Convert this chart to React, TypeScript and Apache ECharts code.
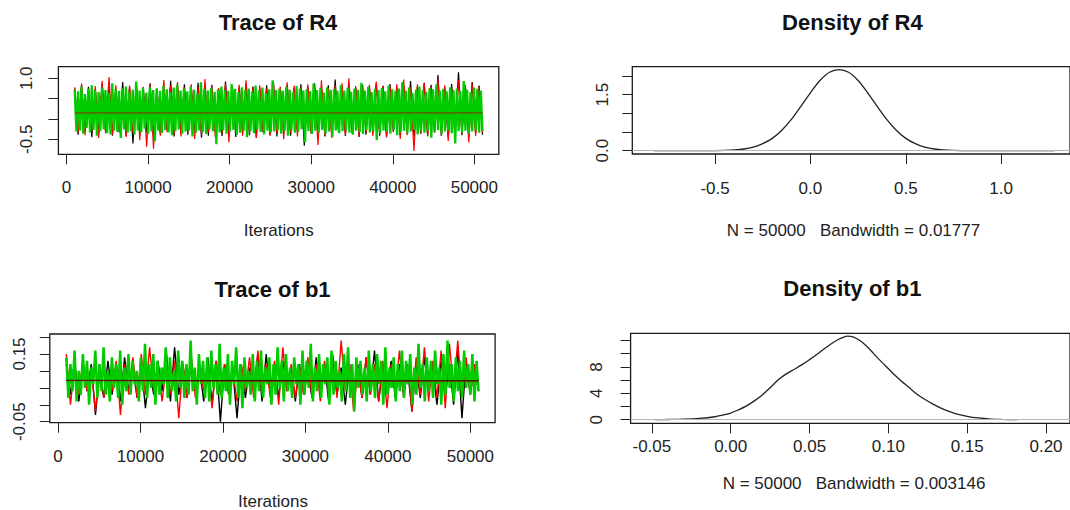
import React, { useEffect, useRef } from "react";
import * as echarts from "echarts";

// ---------- data ----------
const iterStart = 1001;
const iterEnd = 51000;
const traceXTicks = [0, 10000, 20000, 30000, 40000, 50000];
const traceXTickLabels = ["0", "10000", "20000", "30000", "40000", "50000"];

// R4 trace chains
const r4Black = [
  0.75,-0.39,0.83,-0.32,0.79,-0.45,0.73,-0.35,0.87,-0.31,
  0.81,-0.41,0.74,-0.33,0.91,-0.42,0.79,-0.60,0.84,-0.36,
  0.77,-0.34,0.88,-0.44,0.75,-0.38,0.83,-0.31,0.94,-0.43,
  0.76,-0.35,0.85,-0.39,0.80,-0.33,0.89,-0.46,0.78,-0.41,
  0.84,-0.32,0.74,-0.42,0.92,-0.35,0.81,-0.44,0.77,-0.34,
  0.87,-0.40,0.80,-0.47,0.75,-0.33,0.83,-0.39,0.90,-0.43,
  0.78,-0.35,0.84,-0.41,0.76,-0.32,0.85,-0.66,0.81,-0.36,
  0.88,-0.34,0.77,-0.43,0.83,-0.40,0.97,-0.33,0.79,-0.42,
  0.85,-0.35,0.76,-0.44,0.84,-0.39,0.78,-0.34,0.88,-0.41,
  0.81,-0.45,0.86,-0.32,0.77,-0.40,0.83,-0.35,0.93,-0.43,
  0.79,-0.36,0.89,-0.42,0.84,-0.33,1.08,-0.41,0.78,-0.46,
  0.86,-0.35,1.15,-0.40,0.81,-0.44,0.91,-0.34,0.82,-0.39,
];
const r4Red = [
  0.78,-0.33,0.87,-0.40,0.74,-0.30,0.81,-0.47,0.93,-0.35,
  1.03,-0.39,0.83,-0.31,0.76,-0.44,0.82,-0.34,0.89,-0.52,
  0.79,-0.68,0.86,-0.73,0.75,-0.41,0.96,-0.32,0.83,-0.38,
  0.91,-0.43,0.77,-0.34,0.85,-0.49,0.78,-0.40,0.98,-0.33,
  0.82,-0.44,0.76,-0.35,0.88,-0.57,0.80,-0.31,0.84,-0.41,
  0.95,-0.36,0.78,-0.46,0.83,-0.32,0.75,-0.42,0.87,-0.35,
  0.79,-0.50,0.90,-0.33,0.82,-0.43,0.77,-0.39,0.85,-0.34,
  0.78,-0.64,0.95,-0.41,0.76,-0.47,0.83,-0.32,0.88,-0.40,
  1.00,-0.35,0.81,-0.44,0.78,-0.34,0.84,-0.42,0.92,-0.36,
  0.82,-0.45,0.79,-0.31,0.86,-0.49,0.97,-0.40,0.77,-0.79,
  0.85,-0.35,0.89,-0.43,0.80,-0.33,0.99,-0.41,0.83,-0.54,
  0.78,-0.46,0.96,-0.36,0.84,-0.58,0.87,-0.42,0.79,-0.34,
];
const r4Green = [
  0.72,-0.31,0.68,-0.28,0.79,-0.36,0.61,-0.22,0.74,-0.33,
  0.83,-0.27,0.70,-0.41,0.66,-0.30,0.77,-0.25,0.71,-0.35,
  0.64,-0.38,0.88,-0.29,0.73,-0.32,0.69,-0.47,0.75,-0.26,
  0.80,-0.34,0.67,-0.30,0.72,-0.39,0.92,-0.28,0.70,-0.33,
  0.76,-0.24,0.65,-0.37,0.78,-0.31,0.71,-0.55,0.74,-0.29,
  0.69,-0.35,0.81,-0.27,0.73,-0.33,0.66,-0.40,0.77,-0.30,
  0.84,-0.26,0.70,-0.36,0.75,-0.31,0.68,-0.29,0.79,-0.43,
  0.72,-0.34,0.63,-0.28,0.90,-0.32,0.74,-0.37,0.70,-0.25,
  0.76,-0.30,0.67,-0.62,0.73,-0.33,0.80,-0.28,0.71,-0.36,
  0.69,-0.31,0.86,-0.27,0.74,-0.39,0.66,-0.34,0.78,-0.29,
  0.72,-0.45,0.75,-0.30,0.68,-0.35,0.82,-0.26,0.70,-0.32,
  0.77,-0.38,0.64,-0.29,0.73,-0.33,0.95,-0.31,0.71,-0.27,
  0.74,-0.36,0.69,-0.30,0.79,-0.41,0.72,-0.28,0.66,-0.34,
  0.81,-0.32,0.75,-0.25,0.70,-0.58,0.73,-0.30,0.68,-0.37,
  0.87,-0.29,0.71,-0.33,0.76,-0.27,0.65,-0.36,0.78,-0.31,
  0.72,-0.44,0.74,-0.28,0.69,-0.35,0.83,-0.30,0.70,-0.26,
  0.77,-0.34,0.67,-0.39,0.75,-0.29,0.72,-0.32,0.89,-0.37,
  0.70,-0.27,0.79,-0.33,0.66,-0.30,0.74,-0.52,0.71,-0.35,
  0.76,-0.28,0.68,-0.31,0.82,-0.36,0.73,-0.26,0.69,-0.40,
  0.75,-0.33,0.91,-0.29,0.70,-0.35,0.77,-0.31,0.64,-0.27,
  0.72,-0.38,0.80,-0.30,0.71,-0.34,0.67,-0.29,0.76,-0.46,
  0.73,-0.32,0.85,-0.27,0.70,-0.36,0.74,-0.31,0.68,-0.28,
  0.78,-0.35,0.71,-0.60,0.75,-0.30,0.69,-0.33,0.93,-0.29,
  0.72,-0.36,0.66,-0.31,0.77,-0.27,0.74,-0.34,0.70,-0.30,
];
const smoothIter = [1001, 11000, 21000, 31000, 41000, 51000];
const r4SmoothBlack = [0.151, 0.150, 0.150, 0.149, 0.150, 0.151];
const r4SmoothRed = [0.146, 0.146, 0.145, 0.146, 0.147, 0.146];

// b1 trace chains
const b1Black = [
  0.12,0.03,0.13,0.01,0.11,0.04,0.12,-0.03,0.10,0.02,
  0.13,0.03,0.12,0.01,0.14,0.04,0.11,0.02,0.12,-0.01,
  0.10,0.03,0.13,0.04,0.16,0.01,0.17,0.03,0.12,0.02,
  0.13,0.04,0.11,0.01,0.14,0.00,0.13,-0.05,0.12,0.03,
  0.10,-0.04,0.12,0.02,0.11,0.04,0.15,0.01,0.15,0.03,
  0.12,0.02,0.13,0.04,0.11,0.01,0.12,0.03,0.10,0.02,
  0.14,0.04,0.12,0.01,0.13,0.03,0.11,0.00,0.12,0.04,
  0.12,0.02,0.14,0.03,0.16,0.01,0.11,0.04,0.13,0.02,
  0.12,0.03,0.10,-0.02,0.12,0.02,0.14,0.04,0.11,0.00,
  0.13,0.03,0.12,0.00,0.16,-0.04,0.13,0.03,0.11,0.04,
];
const b1Red = [
  0.15,0.00,0.12,0.03,0.13,0.04,0.11,-0.02,0.12,0.02,
  0.10,0.04,0.13,-0.03,0.12,0.03,0.14,0.02,0.15,0.03,
  0.17,0.04,0.12,0.01,0.11,0.03,0.13,-0.04,0.12,0.02,
  0.14,0.02,0.12,0.04,0.11,-0.01,0.13,0.03,0.12,0.03,
  0.10,0.01,0.12,0.04,0.14,0.02,0.16,0.03,0.12,0.02,
  0.13,0.00,0.17,0.04,0.12,0.02,0.11,0.03,0.14,0.02,
  0.12,0.01,0.13,0.03,0.15,0.02,0.19,0.04,0.12,-0.02,
  0.11,0.02,0.14,0.03,0.12,0.01,0.13,-0.01,0.12,0.04,
  0.16,0.02,0.12,-0.02,0.14,0.03,0.17,0.01,0.13,0.02,
  0.16,-0.01,0.18,0.04,0.19,0.02,0.14,0.03,0.12,0.04,
];
const b1Green = [
  0.14,0.02,0.12,0.04,0.16,0.01,0.10,0.03,0.15,0.05,
  0.13,0.00,0.11,0.06,0.16,0.02,0.12,0.04,0.17,0.03,
  0.10,0.01,0.14,0.05,0.12,0.02,0.16,0.00,0.11,0.04,
  0.15,0.03,0.13,0.06,0.10,0.01,0.14,0.04,0.18,0.02,
  0.12,0.05,0.15,0.00,0.13,0.03,0.11,0.06,0.17,0.02,
  0.14,0.04,0.10,0.01,0.16,0.05,0.13,0.02,0.12,0.03,
  0.19,0.04,0.11,0.00,0.15,0.06,0.13,0.02,0.14,0.01,
  0.16,0.05,0.12,0.03,0.18,0.02,0.11,0.04,0.15,0.00,
  0.13,0.06,0.17,0.02,0.12,-0.01,0.14,0.05,0.10,0.03,
  0.15,0.01,0.13,0.04,0.16,0.02,0.11,0.06,0.14,0.00,
  0.12,0.03,0.17,0.05,0.13,0.01,0.15,0.04,0.11,0.02,
  0.14,0.06,0.12,0.00,0.16,0.03,0.13,0.05,0.18,0.01,
  0.11,0.04,0.15,0.02,0.12,0.06,0.14,0.00,0.16,0.03,
  0.13,0.05,0.10,0.01,0.15,0.04,0.17,0.02,0.12,-0.02,
  0.14,0.05,0.13,0.03,0.11,0.01,0.16,0.04,0.12,0.02,
  0.15,0.06,0.13,0.00,0.17,0.03,0.11,0.05,0.14,0.01,
  0.12,0.04,0.16,0.02,0.13,0.06,0.15,0.00,0.11,0.03,
  0.18,0.05,0.12,0.01,0.14,0.04,0.13,0.02,0.16,0.06,
  0.11,0.00,0.15,0.03,0.19,0.05,0.12,0.01,0.14,0.04,
  0.13,0.02,0.16,0.05,0.12,0.03,0.15,0.01,0.13,0.04,
];
const b1SmoothBlack = [0.0722, 0.0718, 0.0712, 0.0708, 0.0706, 0.0708];
const b1SmoothRed = [0.0712, 0.0706, 0.0698, 0.0694, 0.0696, 0.0700];

// densities
const r4DensX = [-0.82,-0.7,-0.6,-0.55,-0.5,-0.45,-0.4,-0.35,-0.3,-0.25,-0.2,-0.15,-0.1,-0.05,0,0.05,0.1,0.15,0.2,0.25,0.3,0.35,0.4,0.45,0.5,0.55,0.6,0.65,0.7,0.75,0.8,0.85,0.9,1.0,1.1,1.28];
const r4DensY = [0,0.0005,0.001,0.002,0.004,0.009,0.021,0.046,0.097,0.19,0.33,0.55,0.84,1.19,1.55,1.88,2.10,2.17,2.10,1.88,1.55,1.19,0.84,0.55,0.33,0.19,0.097,0.046,0.021,0.009,0.004,0.002,0.001,0.0005,0.0003,0];
const b1DensX = [-0.048,-0.04,-0.03,-0.02,-0.01,-0.005,0,0.005,0.01,0.015,0.02,0.025,0.03,0.035,0.04,0.045,0.05,0.055,0.06,0.065,0.07,0.074,0.078,0.083,0.088,0.093,0.098,0.103,0.108,0.113,0.118,0.123,0.128,0.133,0.138,0.143,0.15,0.157,0.165,0.172,0.182];
const b1DensY = [0,0.03,0.08,0.2,0.45,0.7,1.0,1.5,2.1,2.85,3.75,4.85,6.0,6.9,7.6,8.3,9.1,9.95,10.85,11.7,12.35,12.65,12.5,11.8,10.7,9.4,8.2,7.0,5.9,4.9,3.9,3.1,2.4,1.8,1.3,0.9,0.52,0.27,0.1,0.04,0];

// tick values and labels
const r4TraceYTicks = [-0.5, 0, 0.5, 1.0];
const r4TraceYLabels = ["-0.5", "", "", "1.0"];
const b1TraceYTicks = [-0.05, 0, 0.05, 0.1, 0.15, 0.2];
const b1TraceYLabels = ["-0.05", "", "", "", "0.15", ""];
const r4DensXTicks = [-0.5, 0, 0.5, 1.0];
const r4DensXLabels = ["-0.5", "0.0", "0.5", "1.0"];
const r4DensYTicks = [0, 0.5, 1.0, 1.5, 2.0];
const r4DensYLabels = ["0.0", "", "", "1.5", ""];
const b1DensXTicks = [-0.05, 0, 0.05, 0.1, 0.15, 0.2];
const b1DensXLabels = ["-0.05", "0.00", "0.05", "0.10", "0.15", "0.20"];
const b1DensYTicks = [0, 2, 4, 6, 8, 10, 12];
const b1DensYLabels = ["0", "", "4", "", "8", "", ""];

const titles = ["Trace of R4", "Density of R4", "Trace of b1", "Density of b1"];
const subR4 = "N = 50000   Bandwidth = 0.01777";
const subB1 = "N = 50000   Bandwidth = 0.003146";
const xName = "Iterations";

// ---------- helpers ----------
const FONT = "'Liberation Sans', Arial, Helvetica, sans-serif";
const TXT = "#222";

function traceData(values: number[]) {
  const step = (iterEnd - iterStart) / (values.length - 1);
  return values.map((v, i) => [iterStart + i * step, v]);
}
function pairs(xs: number[], ys: number[]) {
  return xs.map((x, i) => [x, ys[i]]);
}
function fmt(ticks: number[], labels: string[]) {
  return (v: number) => {
    const i = ticks.findIndex((t) => Math.abs(t - v) < 1e-9);
    return i >= 0 ? labels[i] : "";
  };
}
function xAxis(gi: number, min: number, max: number, ticks: number[], labels: string[], margin: number) {
  return {
    type: "value", gridIndex: gi, min, max, position: "bottom",
    axisLine: { show: false, onZero: false }, splitLine: { show: false },
    axisTick: { show: true, inside: false, length: 10, lineStyle: { color: "#222", width: 1 }, customValues: ticks },
    axisLabel: { show: true, customValues: ticks, formatter: fmt(ticks, labels), margin, fontSize: 17, color: TXT, fontFamily: FONT },
  };
}
function yAxis(gi: number, min: number, max: number, ticks: number[], labels: string[], margin: number) {
  return {
    type: "value", gridIndex: gi, min, max, position: "left",
    axisLine: { show: false, onZero: false }, splitLine: { show: false },
    axisTick: { show: true, inside: false, length: 10, lineStyle: { color: "#222", width: 1 }, customValues: ticks },
    axisLabel: { show: true, rotate: 90, customValues: ticks, formatter: fmt(ticks, labels), margin, fontSize: 17, color: TXT, fontFamily: FONT },
  };
}
function lineS(gi: number, data: number[][], color: string, width: number, opacity = 1, z = 2) {
  return {
    type: "line", xAxisIndex: gi, yAxisIndex: gi, data, showSymbol: false, symbol: "none",
    lineStyle: { color, width, opacity, join: "bevel" }, z, silent: true, clip: true,
  };
}
function densS(gi: number, data: number[][]) {
  return {
    type: "line", xAxisIndex: gi, yAxisIndex: gi, data, showSymbol: false, symbol: "none",
    smooth: 0.35, lineStyle: { color: "#222", width: 1.3 }, silent: true, clip: true,
    markLine: {
      silent: true, symbol: "none", label: { show: false },
      lineStyle: { color: "#b5b5b5", width: 1, type: "solid" },
      data: [{ yAxis: 0 }],
    },
  };
}
function txt(x: number, y: number, text: string, size: number, bold = false) {
  return {
    type: "text", x, y, silent: true,
    style: {
      text, fontSize: size, fontWeight: bold ? "bold" : "normal", fontFamily: FONT,
      fill: bold ? "#111" : TXT, align: "center", verticalAlign: "middle",
      textAlign: "center", textVerticalAlign: "middle",
    },
  };
}

const BOX = { show: true, borderColor: "#1a1a1a", borderWidth: 1.3, backgroundColor: "transparent" };

export default function App() {
  const ref = useRef<HTMLDivElement>(null);
  useEffect(() => {
    if (!ref.current) return;
    const chart = echarts.init(ref.current, undefined, { renderer: "svg" });
    const option: any = {
      animation: false,
      backgroundColor: "#ffffff",
      grid: [
        { ...BOX, left: 58.4, top: 66.7, width: 440.4, height: 87.6 },
        { ...BOX, left: 632.3, top: 66.7, width: 442, height: 87.3 },
        { ...BOX, left: 49.8, top: 334, width: 445.3, height: 88.7 },
        { ...BOX, left: 630.6, top: 333.3, width: 442, height: 90 },
      ],
      xAxis: [
        xAxis(0, -1000, 53000, traceXTicks, traceXTickLabels, 25),
        xAxis(1, -0.934, 1.361, r4DensXTicks, r4DensXLabels, 25.5),
        xAxis(2, -1000, 53000, traceXTicks, traceXTickLabels, 25.5),
        xAxis(3, -0.0635, 0.2152, b1DensXTicks, b1DensXLabels, 15),
      ],
      yAxis: [
        yAxis(0, -0.869, 1.285, r4TraceYTicks, r4TraceYLabels, 23),
        yAxis(1, -0.088, 2.249, r4DensYTicks, r4DensYLabels, 21),
        yAxis(2, -0.053, 0.209, b1TraceYTicks, b1TraceYLabels, 22),
        yAxis(3, -0.545, 13.09, b1DensYTicks, b1DensYLabels, 26),
      ],
      series: [
        lineS(0, traceData(r4Black), "#000000", 1.2),
        lineS(0, traceData(r4Red), "#ff0000", 1.2),
        lineS(0, traceData(r4Green), "#00cc00", 2.3),
        lineS(0, pairs(smoothIter, r4SmoothBlack), "#000000", 1, 0.35, 3),
        lineS(0, pairs(smoothIter, r4SmoothRed), "#ff0000", 1, 0.6, 3),
        densS(1, pairs(r4DensX, r4DensY)),
        lineS(2, traceData(b1Black), "#000000", 1.4),
        lineS(2, traceData(b1Red), "#ff0000", 1.4),
        lineS(2, traceData(b1Green), "#00cc00", 2.5),
        lineS(2, pairs(smoothIter, b1SmoothBlack), "#000000", 1, 1, 3),
        lineS(2, pairs(smoothIter, b1SmoothRed), "#b00000", 1, 0.8, 3),
        densS(3, pairs(b1DensX, b1DensY)),
      ],
      graphic: [
        txt(278, 22, titles[0], 22, true),
        txt(852.4, 22.5, titles[1], 22, true),
        txt(272.5, 289, titles[2], 22, true),
        txt(852.4, 288, titles[3], 22, true),
        txt(278.7, 230.5, xName, 17),
        txt(273, 501.7, xName, 17),
        txt(853.5, 230, subR4, 17),
        txt(854, 483, subB1, 17),
      ],
    };
    chart.setOption(option);
    return () => chart.dispose();
  }, []);
  return (
    <div
      ref={ref}
      style={{ position: "absolute", left: 0, top: 0, width: 1070, height: 510, background: "#fff" }}
    />
  );
}
